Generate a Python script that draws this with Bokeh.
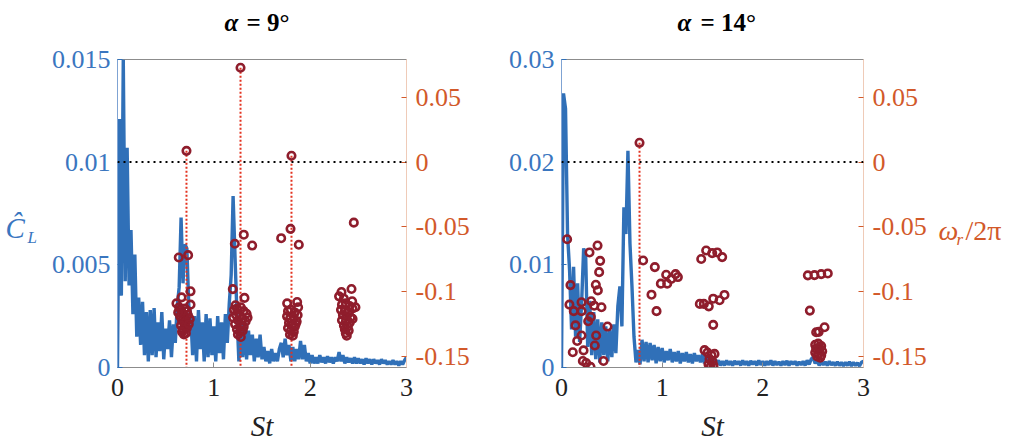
import numpy as np
from bokeh.plotting import figure
from bokeh.models import Range1d, LinearAxis, FixedTicker, Span
from bokeh.layouts import row, column
from bokeh.core.properties import value
from bokeh.embed import file_html
from bokeh.resources import INLINE

FONT = "Liberation Serif"
BLUE = "#3070B8"
BLUE_TXT = "#3A76BF"
BLUE_AXIS = "#7FA3D3"
ORANGE = "#D2592A"
ORANGE_AXIS = "#EFCBB8"
MARK = "#8F1D2C"
STAB = "#E3321F"
GRAY = "#8C8C8C"

# ---------------- data ----------------
st_step = 0.02          # Strouhal spacing of the lift spectra
x_ticks = [0, 1, 2, 3]
w_ticks = [-0.15, -0.1, -0.05, 0, 0.05]
w_tick_labels = ["-0.15", "-0.1", "-0.05", "0", "0.05"]
w_range = (-0.1585, 0.0792)

title_symbol = "α"
title_values = ["= 9°", "= 14°"]
x_label = "St"

# lift spectrum amplitude in units of 1e-3
cl9_ticks = [0, 5, 10, 15]
cl9_tick_labels = ["0", "0.005", "0.01", "0.015"]
cl9 = [0, 12.1, 3.5, 15.0, 4.2, 10.7, 4.0, 6.7, 2.6, 5.5,
       1.5, 3.4, 1.1, 3.2, 0.6, 2.7, 0.3, 2.8, 0.6, 2.9,
       0.5, 2.2, 0.8, 2.7, 0.4, 1.9, 0.9, 2.3, 0.5, 2.1,
       1.2, 3.0, 3.9, 7.3, 4.1, 6.0, 5.8, 3.0, 2.6, 0.6,
       2.5, 0.3, 2.8, 0.9, 2.2, 0.3, 2.6, 0.5, 2.4, 0.6,
       2.0, 0.3, 2.5, 0.7, 2.2, 0.4, 2.6, 1.2, 3.1, 4.5,
       8.35, 5.4, 2.6, 0.3, 2.3, 0.5, 2.2, 0.4, 1.8, 0.6,
       1.6, 0.3, 1.4, 0.5, 1.6, 0.4, 1.0, 0.3, 0.8, 0.2,
       0.9, 0.3, 0.7, 0.3, 0.9, 1.2, 0.5, 1.4, 0.6, 1.1,
       0.3, 1.0, 0.3, 0.9, 0.4, 1.3, 0.4, 1.1, 0.3, 0.7,
       0.2, 0.6, 0.2, 0.5, 0.2, 0.6, 0.25, 0.5, 0.2, 0.55,
       0.25, 0.5, 0.2, 0.5, 0.3, 0.75, 0.3, 0.6, 0.2, 0.5,
       0.25, 0.45, 0.2, 0.5, 0.2, 0.45, 0.2, 0.4, 0.15, 0.45,
       0.2, 0.4, 0.15, 0.4, 0.2, 0.35, 0.15, 0.4, 0.2, 0.35,
       0.15, 0.3, 0.15, 0.35, 0.15, 0.3, 0.1, 0.3, 0.15, 0.35,
       0.5]

cl14_ticks = [0, 10, 20, 30]
cl14_tick_labels = ["0", "0.01", "0.02", "0.03"]
cl14 = [0, 26.7, 25.2, 13.0, 9.5, 3.7, 9.8, 3.0, 8.2, 2.5,
        6.3, 11.6, 11.0, 2.0, 6.5, 1.2, 5.4, 0.8, 4.7, 0.5,
        4.4, 1.2, 4.0, 0.6, 3.7, 1.0, 4.2, 1.4, 6.0, 7.9,
        4.0, 15.6, 13.0, 21.1, 12.1, 7.9, 3.0, 0.5, 1.7, 0.3,
        2.7, 0.6, 2.5, 0.5, 2.4, 0.7, 2.2, 0.4, 2.0, 0.6,
        1.9, 0.5, 1.6, 0.7, 1.8, 0.5, 1.5, 0.6, 1.6, 0.4,
        1.4, 0.6, 1.5, 0.5, 1.3, 0.4, 1.4, 0.6, 1.2, 0.5,
        1.3, 0.4, 1.1, 0.5, 1.0, 0.3, 0.9, 0.3, 0.7, 0.2,
        0.6, 0.2, 0.7, 0.25, 0.6, 0.2, 0.65, 0.3, 0.6, 0.2,
        0.7, 0.25, 0.6, 0.2, 0.65, 0.3, 0.6, 0.2, 0.7, 0.25,
        0.6, 0.2, 0.6, 0.25, 0.7, 0.2, 0.6, 0.25, 0.55, 0.2,
        0.6, 0.25, 0.65, 0.2, 0.6, 0.3, 0.6, 0.2, 0.55, 0.25,
        0.6, 0.2, 0.7, 0.3, 0.8, 1.0, 0.4, 0.7, 0.2, 0.6,
        0.25, 0.55, 0.2, 0.6, 0.25, 0.5, 0.2, 0.55, 0.2, 0.5,
        0.15, 0.5, 0.2, 0.55, 0.15, 0.5, 0.2, 0.45, 0.15, 0.5,
        0.6]

# eigenvalues (St, omega_r / 2pi), alpha = 9
mk9_st = [0.716, 0.636, 0.733, 0.758, 0.665, 0.612, 0.758,
          0.64, 0.66, 0.70, 0.72, 0.68, 0.65, 0.70, 0.73, 0.67, 0.69, 0.71, 0.66, 0.70,
          0.68, 0.72, 0.67, 0.69, 0.71, 0.75, 0.63, 0.74,
          1.277, 1.218, 1.311, 1.398, 1.197, 1.318, 1.225,
          1.21, 1.24, 1.28, 1.31, 1.34, 1.23, 1.27, 1.30, 1.25, 1.33, 1.22, 1.28, 1.31,
          1.24, 1.27, 1.30, 1.25, 1.28, 1.35, 1.20,
          1.806, 1.699, 1.796, 1.882, 1.761, 1.865, 1.875,
          1.77, 1.80, 1.84, 1.87, 1.76, 1.79, 1.83, 1.86, 1.78, 1.81, 1.84, 1.77, 1.80,
          1.83, 1.79, 1.82, 1.85,
          2.453, 2.429, 2.325, 2.30, 2.35, 2.436, 2.47,
          2.33, 2.37, 2.41, 2.44, 2.32, 2.36, 2.40, 2.34, 2.38, 2.42, 2.33, 2.37, 2.41,
          2.35, 2.39, 2.36, 2.40, 2.37, 2.38, 2.44]
mk9_w = [0.0087, -0.0736, -0.0718, -0.0997, -0.1044, -0.109, -0.110,
         -0.112, -0.114, -0.113, -0.115, -0.117, -0.119, -0.120, -0.118, -0.122, -0.124, -0.123, -0.126, -0.127,
         -0.129, -0.128, -0.131, -0.133, -0.132, -0.121, -0.116, -0.125,
         0.0728, -0.063, -0.056, -0.0644, -0.098, -0.1048, -0.1105,
         -0.114, -0.113, -0.112, -0.115, -0.117, -0.118, -0.119, -0.121, -0.122, -0.123, -0.125, -0.126, -0.127,
         -0.129, -0.131, -0.130, -0.133, -0.135, -0.120, -0.120,
         0.0049, -0.0587, -0.0515, -0.0638, -0.109, -0.108, -0.112,
         -0.115, -0.114, -0.116, -0.118, -0.119, -0.121, -0.120, -0.123, -0.124, -0.126, -0.127, -0.128, -0.130,
         -0.131, -0.133, -0.134, -0.125,
         -0.0467, -0.0979, -0.1002, -0.1036, -0.1054, -0.1074, -0.112,
         -0.110, -0.109, -0.111, -0.113, -0.114, -0.115, -0.116, -0.118, -0.119, -0.120, -0.122, -0.123, -0.124,
         -0.126, -0.127, -0.129, -0.130, -0.132, -0.134, -0.121]
stab9_st = [0.716, 1.277, 1.806]
stab9_w = [0.0087, 0.0728, 0.0049]

# eigenvalues (St, omega_r / 2pi), alpha = 14
mk14_st = [0.775,
           0.056, 0.089, 0.079, 0.122, 0.139, 0.156, 0.112, 0.199, 0.199, 0.199, 0.219, 0.212, 0.245, 0.288,
           0.278, 0.358, 0.384, 0.374, 0.341, 0.361, 0.295, 0.325, 0.397, 0.265, 0.291, 0.344, 0.331, 0.457, 0.417,
           0.811, 0.927, 0.894, 0.944, 0.987, 1.040, 1.050, 1.090, 1.133, 1.156,
           1.388, 1.437, 1.497, 1.547, 1.596, 1.374, 1.414, 1.463, 1.507, 1.570, 1.619, 1.507, 1.421,
           1.45, 1.49, 1.52, 1.47, 1.50, 1.46, 1.51, 1.48,
           2.447, 2.513, 2.580, 2.645, 2.467, 2.530, 2.555, 2.613,
           2.52, 2.55, 2.58, 2.53, 2.56, 2.59, 2.52, 2.55, 2.58, 2.54, 2.57, 2.56]
mk14_w = [0.0149,
          -0.0595, -0.0949, -0.110, -0.115, -0.126, -0.138, -0.1467, -0.1082, -0.115, -0.1338, -0.1453, -0.1535, -0.155, -0.158,
          -0.0697, -0.0644, -0.0762, -0.0849, -0.0946, -0.099, -0.1074, -0.1108, -0.112, -0.1228, -0.1194, -0.1338, -0.1415, -0.1269, -0.1535,
          -0.0759, -0.081, -0.1023, -0.115, -0.0938, -0.0869, -0.0938, -0.0902, -0.0864, -0.0887,
          -0.0748, -0.0682, -0.0702, -0.0697, -0.0733, -0.1094, -0.1094, -0.1113, -0.1054, -0.1066, -0.1025, -0.1256, -0.1451,
          -0.147, -0.149, -0.148, -0.152, -0.154, -0.156, -0.157, -0.158,
          -0.0874, -0.0872, -0.0864, -0.0859, -0.1146, -0.1313, -0.1310, -0.1274,
          -0.141, -0.140, -0.142, -0.144, -0.145, -0.146, -0.147, -0.148, -0.149, -0.150, -0.151, -0.143]
stab14_st = [0.775]
stab14_w = [0.0149]

STRIP = 42
H = 402
TOP, BOTTOM = 17, 76
W_LF, W_P1, W_P2, W_RF = 46, 455, 432, 86


def style_axis(ax, tick_color, line_color, label_color):
    ax.major_tick_in = 5
    ax.major_tick_out = 0
    ax.minor_tick_in = 0
    ax.minor_tick_out = 0
    ax.major_tick_line_color = tick_color
    ax.axis_line_color = line_color
    ax.axis_line_width = 1
    ax.major_label_text_color = label_color
    ax.major_label_text_font = FONT
    ax.major_label_text_font_size = "26px"
    ax.major_label_standoff = 7


def panel(width, mb_left, mb_right, cl, yticks, ylabels, mk_st, mk_w, stab_st, stab_w):
    ymax = yticks[-1]
    p = figure(width=width, height=H, x_range=Range1d(0, 3), y_range=Range1d(0, ymax),
               output_backend="svg", toolbar_location=None, title_location=None,
               min_border_left=mb_left, min_border_right=mb_right,
               min_border_top=TOP, min_border_bottom=BOTTOM)
    p.extra_y_ranges = {"w": Range1d(*w_range)}
    p.xgrid.visible = False
    p.ygrid.visible = False
    p.outline_line_color = GRAY
    p.outline_line_width = 1
    p.background_fill_color = "white"
    p.border_fill_color = "white"

    # left axis (lift amplitude)
    ya = p.yaxis[0]
    ya.ticker = FixedTicker(ticks=yticks)
    ya.major_label_overrides = {t: s for t, s in zip(yticks, ylabels)}
    style_axis(ya, BLUE, BLUE_AXIS, BLUE_TXT)

    # bottom axis
    xa = p.xaxis[0]
    xa.ticker = FixedTicker(ticks=x_ticks)
    style_axis(xa, GRAY, GRAY, "#222222")
    xa.major_label_standoff = 11
    xa.axis_label = x_label
    xa.axis_label_text_font = FONT
    xa.axis_label_text_font_style = "italic"
    xa.axis_label_text_font_size = "29px"
    xa.axis_label_text_color = "#222222"
    xa.axis_label_standoff = 11

    # right axis (growth rate)
    ra = LinearAxis(y_range_name="w", ticker=FixedTicker(ticks=w_ticks))
    ra.major_label_overrides = {t: s for t, s in zip(w_ticks, w_tick_labels)}
    style_axis(ra, ORANGE, ORANGE_AXIS, ORANGE)
    ra.major_label_standoff = 9
    p.add_layout(ra, "right")

    st = np.arange(len(cl)) * st_step
    p.line(st, cl, line_width=3.4, color=BLUE)

    p.add_layout(Span(location=0, dimension="width", y_range_name="w",
                      line_color="black", line_dash="2 4", line_width=2))

    p.segment(x0=stab_st, y0=stab_w, x1=stab_st, y1=[w_range[0]] * len(stab_st),
              y_range_name="w", line_color=STAB, line_dash="2 2", line_width=2)

    p.scatter(mk_st, mk_w, marker="circle", size=7.5, line_width=2.6,
              line_color=MARK, fill_alpha=0, y_range_name="w")
    return p


def label_fig(width, height, y0, y1):
    # y range in pixels measured from the canvas bottom; y0..y1 is the frame span
    f = figure(width=width, height=height, x_range=Range1d(0, width), y_range=Range1d(y0, y1),
               output_backend="svg", toolbar_location=None, title_location=None,
               x_axis_type=None, y_axis_type=None, min_border=0)
    f.min_border_left = f.min_border_right = f.min_border_top = f.min_border_bottom = 0
    f.xgrid.visible = False
    f.ygrid.visible = False
    f.outline_line_color = None
    f.background_fill_color = "white"
    f.border_fill_color = "white"
    return f


def put_text(f, x, y, txt, size, color, style="normal"):
    f.text(x=x, y=y, text=txt, text_font=value(FONT), text_font_style=style,
           text_font_size=size, text_color=color, text_baseline="middle", text_align="left")


p1 = panel(W_P1, 71, 95, cl9, cl9_ticks, cl9_tick_labels,
           mk9_st, mk9_w, stab9_st, stab9_w)
p2 = panel(W_P2, 60, 70, cl14, cl14_ticks, cl14_tick_labels,
           mk14_st, mk14_w, stab14_st, stab14_w)

# titles strip
strip = label_fig(W_LF + W_P1 + W_P2 + W_RF, STRIP, 0, STRIP)
put_text(strip, [224, 677], [20.5, 20.5], [title_symbol] * 2, "25px", "black", "bold italic")
put_text(strip, [246, 700], [20.5, 20.5], title_values, "25px", "black", "bold")

# left y label  C-hat with subscript L  (frame is aligned with the panels' frames)
lf = label_fig(W_LF, H, BOTTOM, H - TOP)
put_text(lf, [5], [216], ["Ĉ"], "29px", BLUE_TXT, "italic")
put_text(lf, [27], [206.5], ["L"], "17px", BLUE_TXT, "italic")

# right y label  omega_r / 2 pi
rf = label_fig(W_RF, H, BOTTOM, H - TOP)
put_text(rf, [5], [213], ["ω"], "28px", ORANGE, "italic")
put_text(rf, [23], [204.5], ["r"], "17px", ORANGE, "italic")
put_text(rf, [32], [213], ["/2π"], "28px", ORANGE)

layout = column(strip, row(lf, p1, p2, rf))
open("out.html", "w").write(file_html(layout, INLINE))
